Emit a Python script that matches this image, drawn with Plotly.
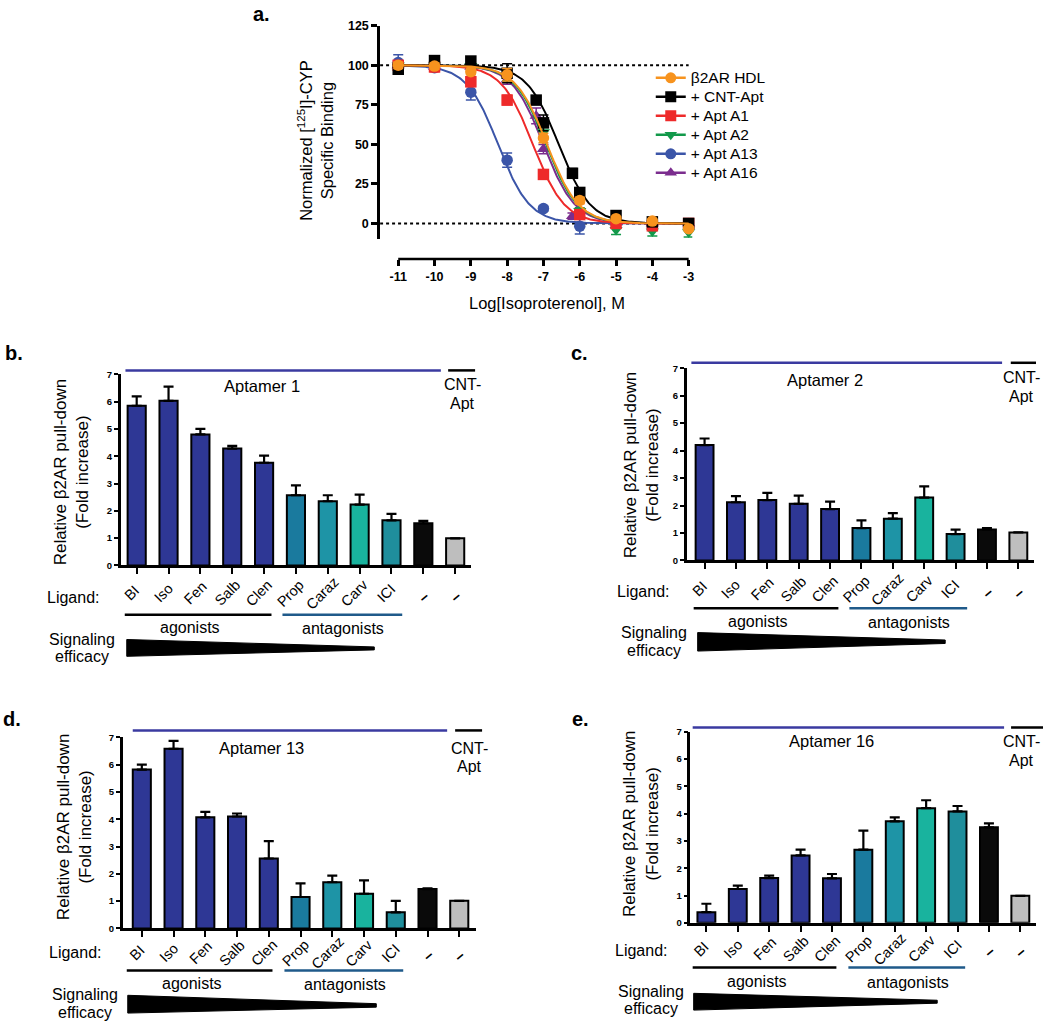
import numpy as np
import plotly.graph_objects as go

# ---------------- data: panel a ----------------
log_conc = [-11, -10, -9, -8, -7, -6, -5, -4, -3]
hdl_y = [100, 99.5, 96, 94, 54, 14.5, 3, 1.5, -3.3]
hdl_err = [2, 2, 2, 4, 3, 2, 1, 1, 1]
cnt_x = [-11, -10, -9, -8, -7.2, -7, -6.2, -6, -5, -4, -3]
cnt_y = [97.5, 103, 102.7, 95, 78, 63.6, 31.7, 19.6, 5, 1, 0]
cnt_err = [3, 2, 2, 6, 2, 5, 3, 2, 1, 1, 1]
a1_y = [100, 99, 89.6, 78, 31, 5.6, 0, -1.5, 0]
a1_err = [2, 3, 3, 3, 2, 2, 1, 1, 1]
a2_y = [100, 100, 99.6, 93, 57.7, 8, -4, -5, -5.5]
a2_err = [2, 2, 2, 3, 3, 2, 3, 3, 3]
a13_x = [-11, -10, -9, -8, -7, -6]
a13_y = [101.7, 98.5, 83, 40, 9.4, -1.7]
a13_err = [5, 2, 5, 4.5, 1.5, 5]
a16_x = [-11, -10, -9, -8, -7.2, -7, -6.2, -5, -4, -3]
a16_y = [100, 99, 99, 91, 68, 47, 4.6, 0.5, 0, 0]
a16_err = [2, 2, 2, 3, 5, 3, 2, 1, 1, 1]
# fitted log IC50 of each curve (read where curve crosses 50 %)
log_ic50 = {"hdl": -6.9, "cnt": -6.58, "a1": -7.29, "a2": -6.93, "a13": -8.25, "a16": -7.0}
x_ticks_a = [-11, -10, -9, -8, -7, -6, -5, -4, -3]
y_ticks_a = [0, 25, 50, 75, 100, 125]

# ---------------- data: bar panels ----------------
ligands = ["BI", "Iso", "Fen", "Salb", "Clen", "Prop", "Caraz", "Carv", "ICI", "–", "–"]
apt1_mean = [5.85, 6.03, 4.8, 4.28, 3.76, 2.57, 2.35, 2.23, 1.65, 1.54, 0.99]
apt1_err = [0.34, 0.52, 0.2, 0.1, 0.26, 0.36, 0.22, 0.36, 0.24, 0.09, None]
apt2_mean = [4.2, 2.12, 2.2, 2.06, 1.87, 1.18, 1.52, 2.29, 0.96, 1.13, 1.02]
apt2_err = [0.24, 0.22, 0.26, 0.3, 0.27, 0.28, 0.2, 0.41, 0.16, 0.05, None]
apt13_mean = [5.82, 6.58, 4.07, 4.1, 2.56, 1.15, 1.69, 1.27, 0.59, 1.44, 1.01]
apt13_err = [0.18, 0.29, 0.2, 0.11, 0.64, 0.5, 0.24, 0.49, 0.42, 0.03, None]
apt16_mean = [0.39, 1.24, 1.64, 2.47, 1.63, 2.68, 3.72, 4.2, 4.08, 3.5, 0.99]
apt16_err = [0.31, 0.12, 0.09, 0.21, 0.16, 0.7, 0.14, 0.29, 0.2, 0.14, None]
bar_y_ticks = [0, 1, 2, 3, 4, 5, 6, 7]

# ---------------- styling ----------------
W, H = 1050, 1025
FONT = "Arial, 'Liberation Sans', sans-serif"
NAVY = "#2E3795"
bar_colors = [NAVY] * 5 + ["#1A7A9E", "#1E94A6", "#19B39E", "#1F8E9C", "#0A0A0A", "#BEBEBE"]
APT_LINE = "#3A3AA0"
ANT_LINE = "#1F5A8A"


def px(x):
    return x / W


def py(y):
    return 1 - y / H


fig = go.Figure()

# ---------------- panel a ----------------
series = [
    # key, name, x, y, err, color, symbol, legendrank
    ("a13", "+ Apt A13", a13_x, a13_y, a13_err, "#3B55A8", "circle", 5),
    ("a16", "+ Apt A16", a16_x, a16_y, a16_err, "#7B2D8E", "triangle-up", 6),
    ("a2", "+ Apt A2", log_conc, a2_y, a2_err, "#12994A", "triangle-down", 4),
    ("a1", "+ Apt A1", log_conc, a1_y, a1_err, "#EE2A2A", "square", 3),
    ("cnt", "+ CNT-Apt", cnt_x, cnt_y, cnt_err, "#000000", "square", 2),
    ("hdl", "β2AR HDL", log_conc, hdl_y, hdl_err, "#F7931E", "circle", 1),
]
xs = np.linspace(-11, -3, 300)
for key, name, x, y, err, col, sym, rank in series:
    fit = 100 / (1 + 10 ** (xs - log_ic50[key]))
    fig.add_trace(go.Scatter(x=xs, y=fit, mode="lines", line=dict(color=col, width=2),
                             showlegend=False, hoverinfo="skip", xaxis="x", yaxis="y"))
    fig.add_trace(go.Scatter(x=x, y=y, mode="markers",
                             marker=dict(color=col, symbol=sym, size=11.5),
                             error_y=dict(type="data", array=err, color=col, thickness=1.5, width=5),
                             showlegend=False, cliponaxis=False, xaxis="x", yaxis="y"))
    fig.add_trace(go.Scatter(x=[None], y=[None], mode="lines+markers",
                             name=f'<span style="font-size:15.5px">{name}</span>',
                             line=dict(color=col, width=2.5),
                             marker=dict(color=col, symbol=sym, size=11),
                             legendrank=rank, xaxis="x", yaxis="y"))

fig.update_layout(
    xaxis=dict(domain=[px(380.8), px(693.6)], range=[-11.5, -2.9], anchor="free",
               position=py(255), showline=False, showgrid=False, zeroline=False,
               ticks="outside", ticklen=6, tickwidth=2.5, tickcolor="black",
               tickvals=x_ticks_a, ticktext=[str(v) for v in x_ticks_a],
               tickfont=dict(family=FONT, size=12.5, color="black", weight="bold")),
    yaxis=dict(domain=[py(235), py(19)], range=[-10, 125], anchor="x",
               showline=True, linewidth=2.5, linecolor="black", showgrid=False, zeroline=False,
               ticks="outside", ticklen=6, tickwidth=2.5, tickcolor="black",
               tickvals=y_ticks_a,
               tickfont=dict(family=FONT, size=12.5, color="black", weight="bold")),
)

shapes = []
annotations = []

# x axis line of panel a (offset from the plot, GraphPad style)
shapes.append(dict(type="line", xref="x", yref="paper", x0=-11, x1=-3, y0=py(255), y1=py(255),
                   line=dict(color="black", width=2.5)))
for lvl in (0, 100):
    shapes.append(dict(type="line", xref="x", yref="y", x0=-11.5, x1=-3, y0=lvl, y1=lvl,
                       line=dict(color="black", width=2, dash="dot"), layer="below"))


def ann(text, x, y, size=15, bold=False, angle=0, xanchor="center", yanchor="middle",
        color="black", xref="paper"):
    annotations.append(dict(text=text, x=px(x) if xref == "paper" else x, y=py(y),
                            xref=xref, yref="paper",
                            showarrow=False, textangle=angle, xanchor=xanchor, yanchor=yanchor,
                            font=dict(family=FONT, size=size, color=color,
                                      weight="bold" if bold else "normal")))


ann("a.", 262, 7, size=20, bold=True)
ann("Normalized [<sup>125</sup>I]-CYP<br>Specific Binding", 316, 135, size=16.5, angle=-90)
ann("Log[Isoproterenol], M", 548, 300, size=16.5)

# ---------------- bar panels ----------------
panels = [
    dict(i=2, lab="b.", labpos=(14, 350), mean=apt1_mean, err=apt1_err, xd=(121, 472), y0=565, y7=371.7,
         xr=[-0.5, 10.5], apt="Aptamer 1", aptpos=(262, 383), cntpos=(463, 382),
         hline=367.7, blue=(125.7, 441.7), black=(449, 476),
         ytitle=(72, 471), ligand=(74, 597), tl_dy=28,
         grp_y=615, ago=(125, 272), ant=(283, 403), agotxt=(190, 628), anttxt=(344, 629),
         sig=(82.5, 640, 657), wedge=[(127, 640), (375, 647.5), (375, 650.5), (127, 657)]),
    dict(i=3, lab="c.", labpos=(581, 350), mean=apt2_mean, err=apt2_err, xd=(688, 1036), y0=560, y7=365.5,
         xr=[-0.57, 10.5], apt="Aptamer 2", aptpos=(827, 377), cntpos=(1023, 375),
         hline=360, blue=(692.7, 1004), black=(1012.7, 1038),
         ytitle=(643, 464), ligand=(645, 591), tl_dy=29,
         grp_y=608.3, ago=(695, 840), ant=(851, 969), agotxt=(759, 622), anttxt=(911, 623),
         sig=(655, 633, 651), wedge=[(699, 633), (947, 640.5), (947, 644), (699, 651.7)]),
    dict(i=4, lab="d.", labpos=(12, 720), mean=apt13_mean, err=apt13_err, xd=(123, 477), y0=932.3, y7=739,
         xr=[-0.6, 10.53], apt="Aptamer 13", aptpos=(262, 750), cntpos=(470, 750),
         hline=732, blue=(133, 448), black=(456, 483),
         ytitle=(74, 830), ligand=(76, 957), tl_dy=24.5,
         grp_y=975, ago=(127, 273), ant=(285, 404), agotxt=(192, 988), anttxt=(346, 989),
         sig=(85, 999, 1017), wedge=[(128, 1000), (377, 1008.5), (377, 1012), (128, 1018)]),
    dict(i=5, lab="e.", labpos=(582, 720), mean=apt16_mean, err=apt16_err, xd=(691.7, 1038), y0=926.7, y7=733.3,
         xr=[-0.51, 10.5], apt="Aptamer 16", aptpos=(833, 743), cntpos=(1023, 743),
         hline=729, blue=(694, 1006), black=(1013, 1045),
         ytitle=(642, 827), ligand=(643, 955), tl_dy=26,
         grp_y=972, ago=(694, 838), ant=(850, 967), agotxt=(758, 986), anttxt=(910, 987),
         sig=(652, 996, 1013), wedge=[(695, 998), (939, 1005), (939, 1008), (695, 1015)]),
]

for p in panels:
    i = p["i"]
    xa, ya = f"x{i}", f"y{i}"
    n = len(ligands)
    errs = [e if e is not None else float("nan") for e in p["err"]]
    fig.add_trace(go.Bar(x=list(range(n)), y=p["mean"], width=0.57,
                         marker=dict(color=bar_colors, line=dict(color="black", width=2)),
                         error_y=dict(type="data", symmetric=False, array=errs,
                                      arrayminus=[0] * n, color="black", thickness=2.2, width=5),
                         showlegend=False, xaxis=xa, yaxis=ya))
    fig.layout[f"xaxis{i}"] = dict(domain=[px(p["xd"][0]), px(p["xd"][1])], range=p["xr"], anchor=ya,
                                   showline=True, linewidth=2.5, linecolor="black", showgrid=False,
                                   zeroline=False, ticks="outside", ticklen=6, tickwidth=2.2,
                                   tickcolor="black", tickvals=list(range(n)), showticklabels=False)
    fig.layout[f"yaxis{i}"] = dict(domain=[py(p["y0"]), py(p["y7"])], range=[0, 7], anchor=xa,
                                   showline=True, linewidth=2.5, linecolor="black", showgrid=False,
                                   zeroline=False, ticks="outside", ticklen=4, tickwidth=2,
                                   tickcolor="black", tickvals=bar_y_ticks,
                                   tickfont=dict(family=FONT, size=9.5, color="black", weight="bold"))
    # rotated ligand labels (category tick labels)
    for k, lab in enumerate(ligands):
        if lab == "–":
            ann(lab, k, p["y0"] + p["tl_dy"] + 3, size=15, bold=True, angle=-40, xref=xa)
        else:
            ann(lab, k - 0.16, p["y0"] + p["tl_dy"], size=14.5, angle=-45, xref=xa)
    # header lines
    shapes.append(dict(type="line", xref="paper", yref="paper", x0=px(p["blue"][0]), x1=px(p["blue"][1]),
                       y0=py(p["hline"]), y1=py(p["hline"]), line=dict(color=APT_LINE, width=2.5)))
    shapes.append(dict(type="line", xref="paper", yref="paper", x0=px(p["black"][0]), x1=px(p["black"][1]),
                       y0=py(p["hline"]), y1=py(p["hline"]), line=dict(color="black", width=2.5)))
    # group lines
    shapes.append(dict(type="line", xref="paper", yref="paper", x0=px(p["ago"][0]), x1=px(p["ago"][1]),
                       y0=py(p["grp_y"]), y1=py(p["grp_y"]), line=dict(color="black", width=2.5)))
    shapes.append(dict(type="line", xref="paper", yref="paper", x0=px(p["ant"][0]), x1=px(p["ant"][1]),
                       y0=py(p["grp_y"]), y1=py(p["grp_y"]), line=dict(color=ANT_LINE, width=2.5)))
    # efficacy wedge
    path = "M " + " L ".join(f"{px(a):.5f},{py(b):.5f}" for a, b in p["wedge"]) + " Z"
    shapes.append(dict(type="path", xref="paper", yref="paper", path=path,
                       fillcolor="black", line=dict(color="black", width=1)))
    # texts
    ann(p["lab"], *p["labpos"], size=20, bold=True)
    ann(p["apt"], *p["aptpos"], size=16.5)
    ann("CNT-", p["cntpos"][0], p["cntpos"][1], size=16)
    ann("Apt", p["cntpos"][0], p["cntpos"][1] + 19, size=16)
    ann("Relative β2AR pull-down<br>(Fold increase)", *p["ytitle"], size=17, angle=-90)
    ann("Ligand:", *p["ligand"], size=16)
    ann("agonists", *p["agotxt"], size=16)
    ann("antagonists", *p["anttxt"], size=16)
    ann("Signaling", p["sig"][0], p["sig"][1], size=16)
    ann("efficacy", p["sig"][0], p["sig"][2], size=16)

fig.update_layout(
    width=W, height=H, margin=dict(l=0, r=0, t=0, b=0),
    paper_bgcolor="white", plot_bgcolor="rgba(0,0,0,0)",
    font=dict(family=FONT, color="black"),
    shapes=shapes, annotations=annotations,
    legend=dict(x=px(652), y=py(57), xanchor="left", yanchor="top",
                bgcolor="rgba(0,0,0,0)", font=dict(family=FONT, size=12, color="black"),
                itemwidth=30, tracegroupgap=0),
)

fig.write_html("out.html", config={"displayModeBar": False},
               post_script="document.body.style.margin='0';")
